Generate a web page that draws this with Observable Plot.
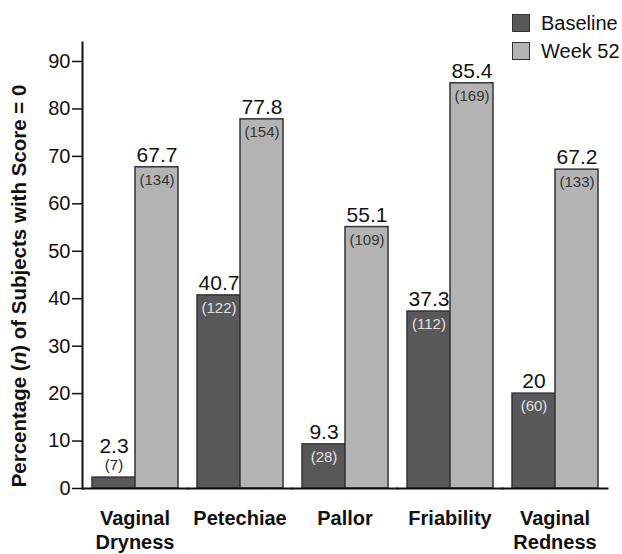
<!DOCTYPE html>
<html>
<head>
<meta charset="utf-8">
<script src="https://cdn.jsdelivr.net/npm/d3@7"></script>
<script src="https://cdn.jsdelivr.net/npm/@observablehq/plot@0.6"></script>
<style>
  html, body { margin: 0; padding: 0; background: #fff; }
  #wrap { position: relative; width: 622px; height: 554px; font-family: "Liberation Sans", Arial, sans-serif; }
  #legend { position: absolute; left: 512px; top: 9px; font-size: 20px; color: #111; }
  .li { display: flex; align-items: center; height: 28px; }
  .sw { width: 16px; height: 16px; border: 1px solid #333; margin-right: 11px; }
</style>
</head>
<body>
<div id="wrap">
  <div id="chart"></div>
  <div id="legend"></div>
</div>
<script>
const categories = ["Vaginal\nDryness", "Petechiae", "Pallor", "Friability", "Vaginal\nRedness"];
const series = ["Baseline", "Week 52"];
const baseline = [2.3, 40.7, 9.3, 37.3, 20];
const baselineN = [7, 122, 28, 112, 60];
const week52 = [67.7, 77.8, 55.1, 85.4, 67.2];
const week52N = [134, 154, 109, 169, 133];
const yTicks = [0, 10, 20, 30, 40, 50, 60, 70, 80, 90];
const colors = ["#58585a", "#b4b4b4"];

const data = categories.flatMap((c, i) => [
  {cat: c, series: "Baseline", value: baseline[i], n: baselineN[i]},
  {cat: c, series: "Week 52", value: week52[i], n: week52N[i]}
]);
const inside = d => d.value > 5;

const plot = Plot.plot({
  width: 622,
  height: 554,
  marginLeft: 81,
  marginRight: 15,
  marginTop: 42,
  marginBottom: 66,
  style: {fontFamily: "'Liberation Sans', Arial, sans-serif", background: "white", color: "#111"},
  fx: {domain: categories, padding: 0, label: null},
  x: {domain: series, paddingInner: 0, paddingOuter: 0.22, axis: null},
  y: {domain: [0, 94], label: null},
  color: {domain: series, range: colors},
  marks: [
    Plot.barY(data, {fx: "cat", x: "series", y: "value", fill: "series", stroke: "#333", strokeWidth: 1.5, inset: 0}),
    Plot.frame({anchor: "bottom", stroke: "#111", strokeWidth: 2}),
    Plot.frame({anchor: "left", facetAnchor: "left", stroke: "#111", strokeWidth: 2}),
    Plot.axisY({ticks: yTicks, tickSize: 10, tickPadding: 2, fontSize: 20, label: null, stroke: "#111", strokeWidth: 1.5}),
    Plot.axisFx({anchor: "bottom", tickSize: 0, tickPadding: 19, fontSize: 20, fontWeight: "bold", label: null, lineHeight: 1.2}),
    Plot.text(data, {fx: "cat", x: "series", y: "value", text: d => String(d.value), fontSize: 21, fill: "#111",
      dy: -12, filter: inside}),
    Plot.text(data, {fx: "cat", x: "series", y: "value", text: d => String(d.value), fontSize: 21, fill: "#111",
      dy: -31, filter: d => !inside(d)}),
    Plot.text(data, {fx: "cat", x: "series", y: "value", text: d => `(${d.n})`, fontSize: 15,
      fill: d => d.series === "Baseline" ? "#e0e0e0" : "#333", dy: 13, filter: inside}),
    Plot.text(data, {fx: "cat", x: "series", y: "value", text: d => `(${d.n})`, fontSize: 15, fill: "#222",
      dy: -12, filter: d => !inside(d)})
  ]
});

const t = d3.select(plot).append("text")
  .attr("transform", "translate(21,286) rotate(-90)")
  .attr("text-anchor", "middle")
  .attr("dominant-baseline", "middle")
  .attr("font-size", 20.5)
  .attr("font-weight", "bold")
  .attr("fill", "#111");
t.append("tspan").text("Percentage (");
t.append("tspan").attr("font-style", "italic").text("n");
t.append("tspan").text(") of Subjects with Score = 0");

document.getElementById("chart").appendChild(plot);

const legend = d3.select("#legend");
series.forEach((s, i) => {
  const row = legend.append("div").attr("class", "li");
  row.append("div").attr("class", "sw").style("background", colors[i]);
  row.append("span").text(s);
});
</script>
</body>
</html>
